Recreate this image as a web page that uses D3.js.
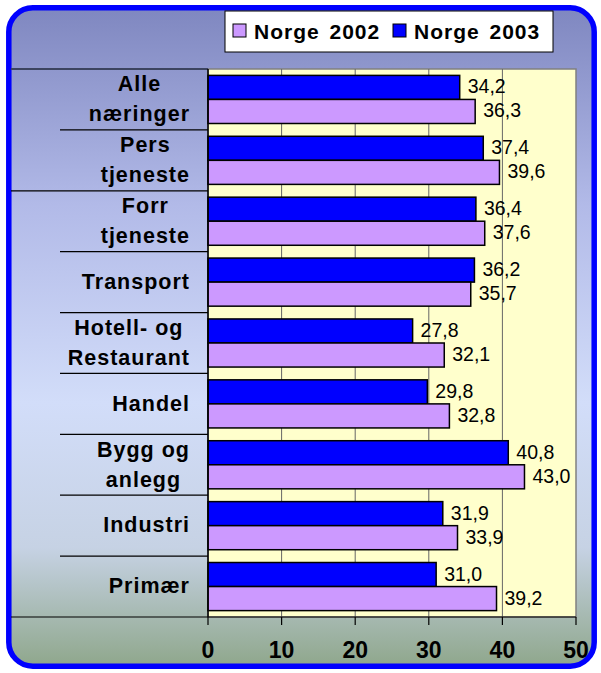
<!DOCTYPE html>
<html>
<head>
<meta charset="utf-8">
<script src="https://cdn.jsdelivr.net/npm/d3@7"></script>
<style>
  body { margin: 0; background: #fff; }
  text { font-family: Arial, "Liberation Sans", sans-serif; }
</style>
</head>
<body>
<div id="chart"></div>
<script>
// ── Data ────────────────────────────────────────────────────────────────
const categories = [
  ["Alle", "næringer"],
  ["Pers", "tjeneste"],
  ["Forr", "tjeneste"],
  ["Transport"],
  ["Hotell- og", "Restaurant"],
  ["Handel"],
  ["Bygg og", "anlegg"],
  ["Industri"],
  ["Primær"]
];
const series = ["Norge 2003", "Norge 2002"];
const values2003 = [34.2, 37.4, 36.4, 36.2, 27.8, 29.8, 40.8, 31.9, 31.0];
const values2002 = [36.3, 39.6, 37.6, 35.7, 32.1, 32.8, 43.0, 33.9, 39.2];
const xTicks = [0, 10, 20, 30, 40, 50];
const legendOrder = ["Norge 2002", "Norge 2003"];

const colors = { "Norge 2002": "#cc99ff", "Norge 2003": "#0000ff" };

// ── Canvas ──────────────────────────────────────────────────────────────
const width = 601, height = 673;
const plot = { left: 208, right: 576, top: 69, bottom: 617 };

const svg = d3.select("#chart").append("svg")
  .attr("width", width).attr("height", height);

const defs = svg.append("defs");
const grad = defs.append("linearGradient")
  .attr("id", "bg").attr("x1", 0).attr("y1", 0).attr("x2", 0).attr("y2", 1);
[[0, "#7f87c0"], [0.3, "#b2bae8"], [0.6, "#d2ddf9"], [0.82, "#c6d2e4"], [1, "#8fa78c"]]
  .forEach(([o, c]) => grad.append("stop").attr("offset", o).attr("stop-color", c));

svg.append("rect")
  .attr("x", 8.8).attr("y", 7.8).attr("width", 585.4).attr("height", 658.4)
  .attr("rx", 24).attr("ry", 24)
  .attr("fill", "url(#bg)")
  .attr("stroke", "#0000ff").attr("stroke-width", 5.5);

// ── Scales ──────────────────────────────────────────────────────────────
const rows = categories.map((c, i) => ({
  key: c.join(" "), lines: c,
  "Norge 2003": values2003[i], "Norge 2002": values2002[i]
}));

const x = d3.scaleLinear().domain([0, 50]).range([plot.left, plot.right]);
const y0 = d3.scaleBand().domain(rows.map(d => d.key)).range([plot.top, plot.bottom]);
const pad = y0.step() * 0.105;
const y1 = d3.scaleBand().domain(series).range([pad, y0.step() - pad]);

// ── Plot area ───────────────────────────────────────────────────────────
svg.append("rect")
  .attr("x", plot.left).attr("y", plot.top)
  .attr("width", plot.right - plot.left).attr("height", plot.bottom - plot.top)
  .attr("fill", "#ffffcc").attr("stroke", "#808080").attr("stroke-width", 1.5);

svg.append("g").selectAll("line")
  .data(xTicks.slice(1, -1))
  .join("line")
  .attr("x1", d => x(d)).attr("x2", d => x(d))
  .attr("y1", plot.top).attr("y2", plot.bottom)
  .attr("stroke", "#666").attr("stroke-width", 1);

// ── Bars ────────────────────────────────────────────────────────────────
const fmt = v => d3.format(".1f")(v).replace(".", ",");

const groups = svg.append("g").selectAll("g")
  .data(rows)
  .join("g")
  .attr("transform", d => `translate(0,${y0(d.key)})`);

groups.selectAll("rect")
  .data(d => series.map(s => ({ s, v: d[s] })))
  .join("rect")
  .attr("x", x(0))
  .attr("y", d => y1(d.s))
  .attr("width", d => x(d.v) - x(0))
  .attr("height", y1.bandwidth())
  .attr("fill", d => colors[d.s])
  .attr("stroke", "#000").attr("stroke-width", 1.5);

groups.selectAll("text.val")
  .data(d => series.map(s => ({ s, v: d[s] })))
  .join("text")
  .attr("class", "val")
  .attr("x", d => x(d.v) + 8)
  .attr("y", d => y1(d.s) + y1.bandwidth() / 2 - 1)
  .attr("dy", "0.36em")
  .attr("font-size", 19.5)
  .attr("fill", "#000")
  .text(d => fmt(d.v));

// ── Category axis (left) ────────────────────────────────────────────────
const bounds = d3.range(rows.length + 1).map(i => plot.top + i * y0.step());
svg.append("g").selectAll("line")
  .data(bounds)
  .join("line")
  .attr("x1", (d, i) => (i === 0 || i === 2 || i === rows.length) ? 11 : 60)
  .attr("x2", (d, i) => i === rows.length ? plot.right : plot.left)
  .attr("y1", d => d).attr("y2", d => d)
  .attr("stroke", (d, i) => i === 0 ? "#3c4460" : "#000")
  .attr("stroke-width", (d, i) => i === 0 ? 2 : 1.2);

svg.append("line")
  .attr("x1", plot.left).attr("x2", plot.left)
  .attr("y1", plot.top).attr("y2", plot.bottom)
  .attr("stroke", "#000").attr("stroke-width", 1.5);

const labelRight = 190;
rows.forEach(d => {
  const g = svg.append("g");
  const n = d.lines.length;
  const cy = y0(d.key) + y0.step() / 2;
  const texts = d.lines.map((line, i) => g.append("text")
    .attr("y", cy + (i - (n - 1) / 2) * 30 - 1)
    .attr("dy", "0.36em")
    .attr("font-size", 21.5).attr("font-weight", "bold")
    .attr("letter-spacing", 1)
    .attr("text-anchor", "middle")
    .text(line));
  const w = d3.max(texts, t => t.node().getComputedTextLength());
  texts.forEach(t => t.attr("x", labelRight - w / 2));
});

// ── Value axis (bottom) ─────────────────────────────────────────────────
svg.append("g").selectAll("line")
  .data(xTicks)
  .join("line")
  .attr("x1", d => x(d)).attr("x2", d => x(d))
  .attr("y1", plot.bottom).attr("y2", plot.bottom + 8)
  .attr("stroke", "#000").attr("stroke-width", 1.2);

svg.append("g").selectAll("text")
  .data(xTicks)
  .join("text")
  .attr("x", d => x(d))
  .attr("y", 650)
  .attr("dy", "0.36em")
  .attr("text-anchor", "middle")
  .attr("font-size", 23).attr("font-weight", "bold")
  .text(d => d);

// ── Legend ──────────────────────────────────────────────────────────────
const legend = svg.append("g");
legend.append("rect")
  .attr("x", 225).attr("y", 11).attr("width", 328).attr("height", 41)
  .attr("fill", "#fff").attr("stroke", "#000").attr("stroke-width", 1);

const legendX = [233, 393];
legendOrder.forEach((s, i) => {
  legend.append("rect")
    .attr("x", legendX[i]).attr("y", 24).attr("width", 13).attr("height", 13)
    .attr("fill", colors[s]).attr("stroke", "#000").attr("stroke-width", 1);
  legend.append("text")
    .attr("x", legendX[i] + 21).attr("y", 31)
    .attr("dy", "0.36em")
    .attr("font-size", 21).attr("font-weight", "bold")
    .attr("letter-spacing", 1)
    .attr("word-spacing", 3)
    .text(s);
});
</script>
</body>
</html>
